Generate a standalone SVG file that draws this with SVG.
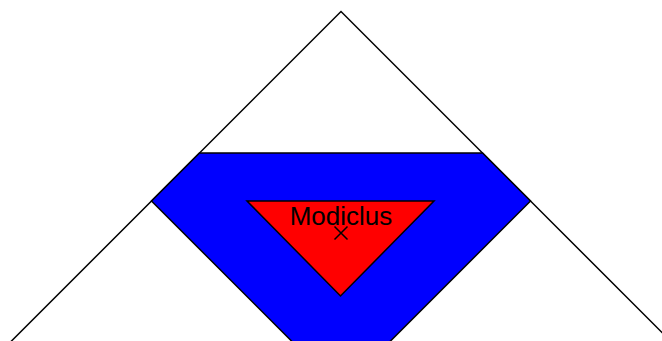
<svg xmlns="http://www.w3.org/2000/svg" width="662" height="341" viewBox="0 0 662 341">
<style>
.edge{fill:none;stroke:#000;stroke-width:1.5}
.shape{stroke:#000;stroke-width:1.5;stroke-linejoin:miter}
.lbl{font-family:"Liberation Sans",Arial,sans-serif;font-size:26px;fill:#000;text-anchor:middle}
</style>
<rect width="662" height="341" fill="#fff"/>
<g id="outer">
<polyline class="edge" points="9.5,343 341,11.5 672.5,343"/>
</g>
<g id="blue">
<polygon class="shape" fill="#0000ff" points="199.5,153 482.5,153 530.5,201 341,390.5 151.5,201"/>
</g>
<g id="red">
<polygon class="shape" fill="#ff0000" points="247,201 434,201 340.5,296"/>
</g>
<g id="label">
<text class="lbl" x="341" y="225">Modiclus</text>
<path class="edge" d="M334.5,226.5 L347.5,239.5 M347.5,226.5 L334.5,239.5" stroke-width="1.2"/>
</g>
</svg>
